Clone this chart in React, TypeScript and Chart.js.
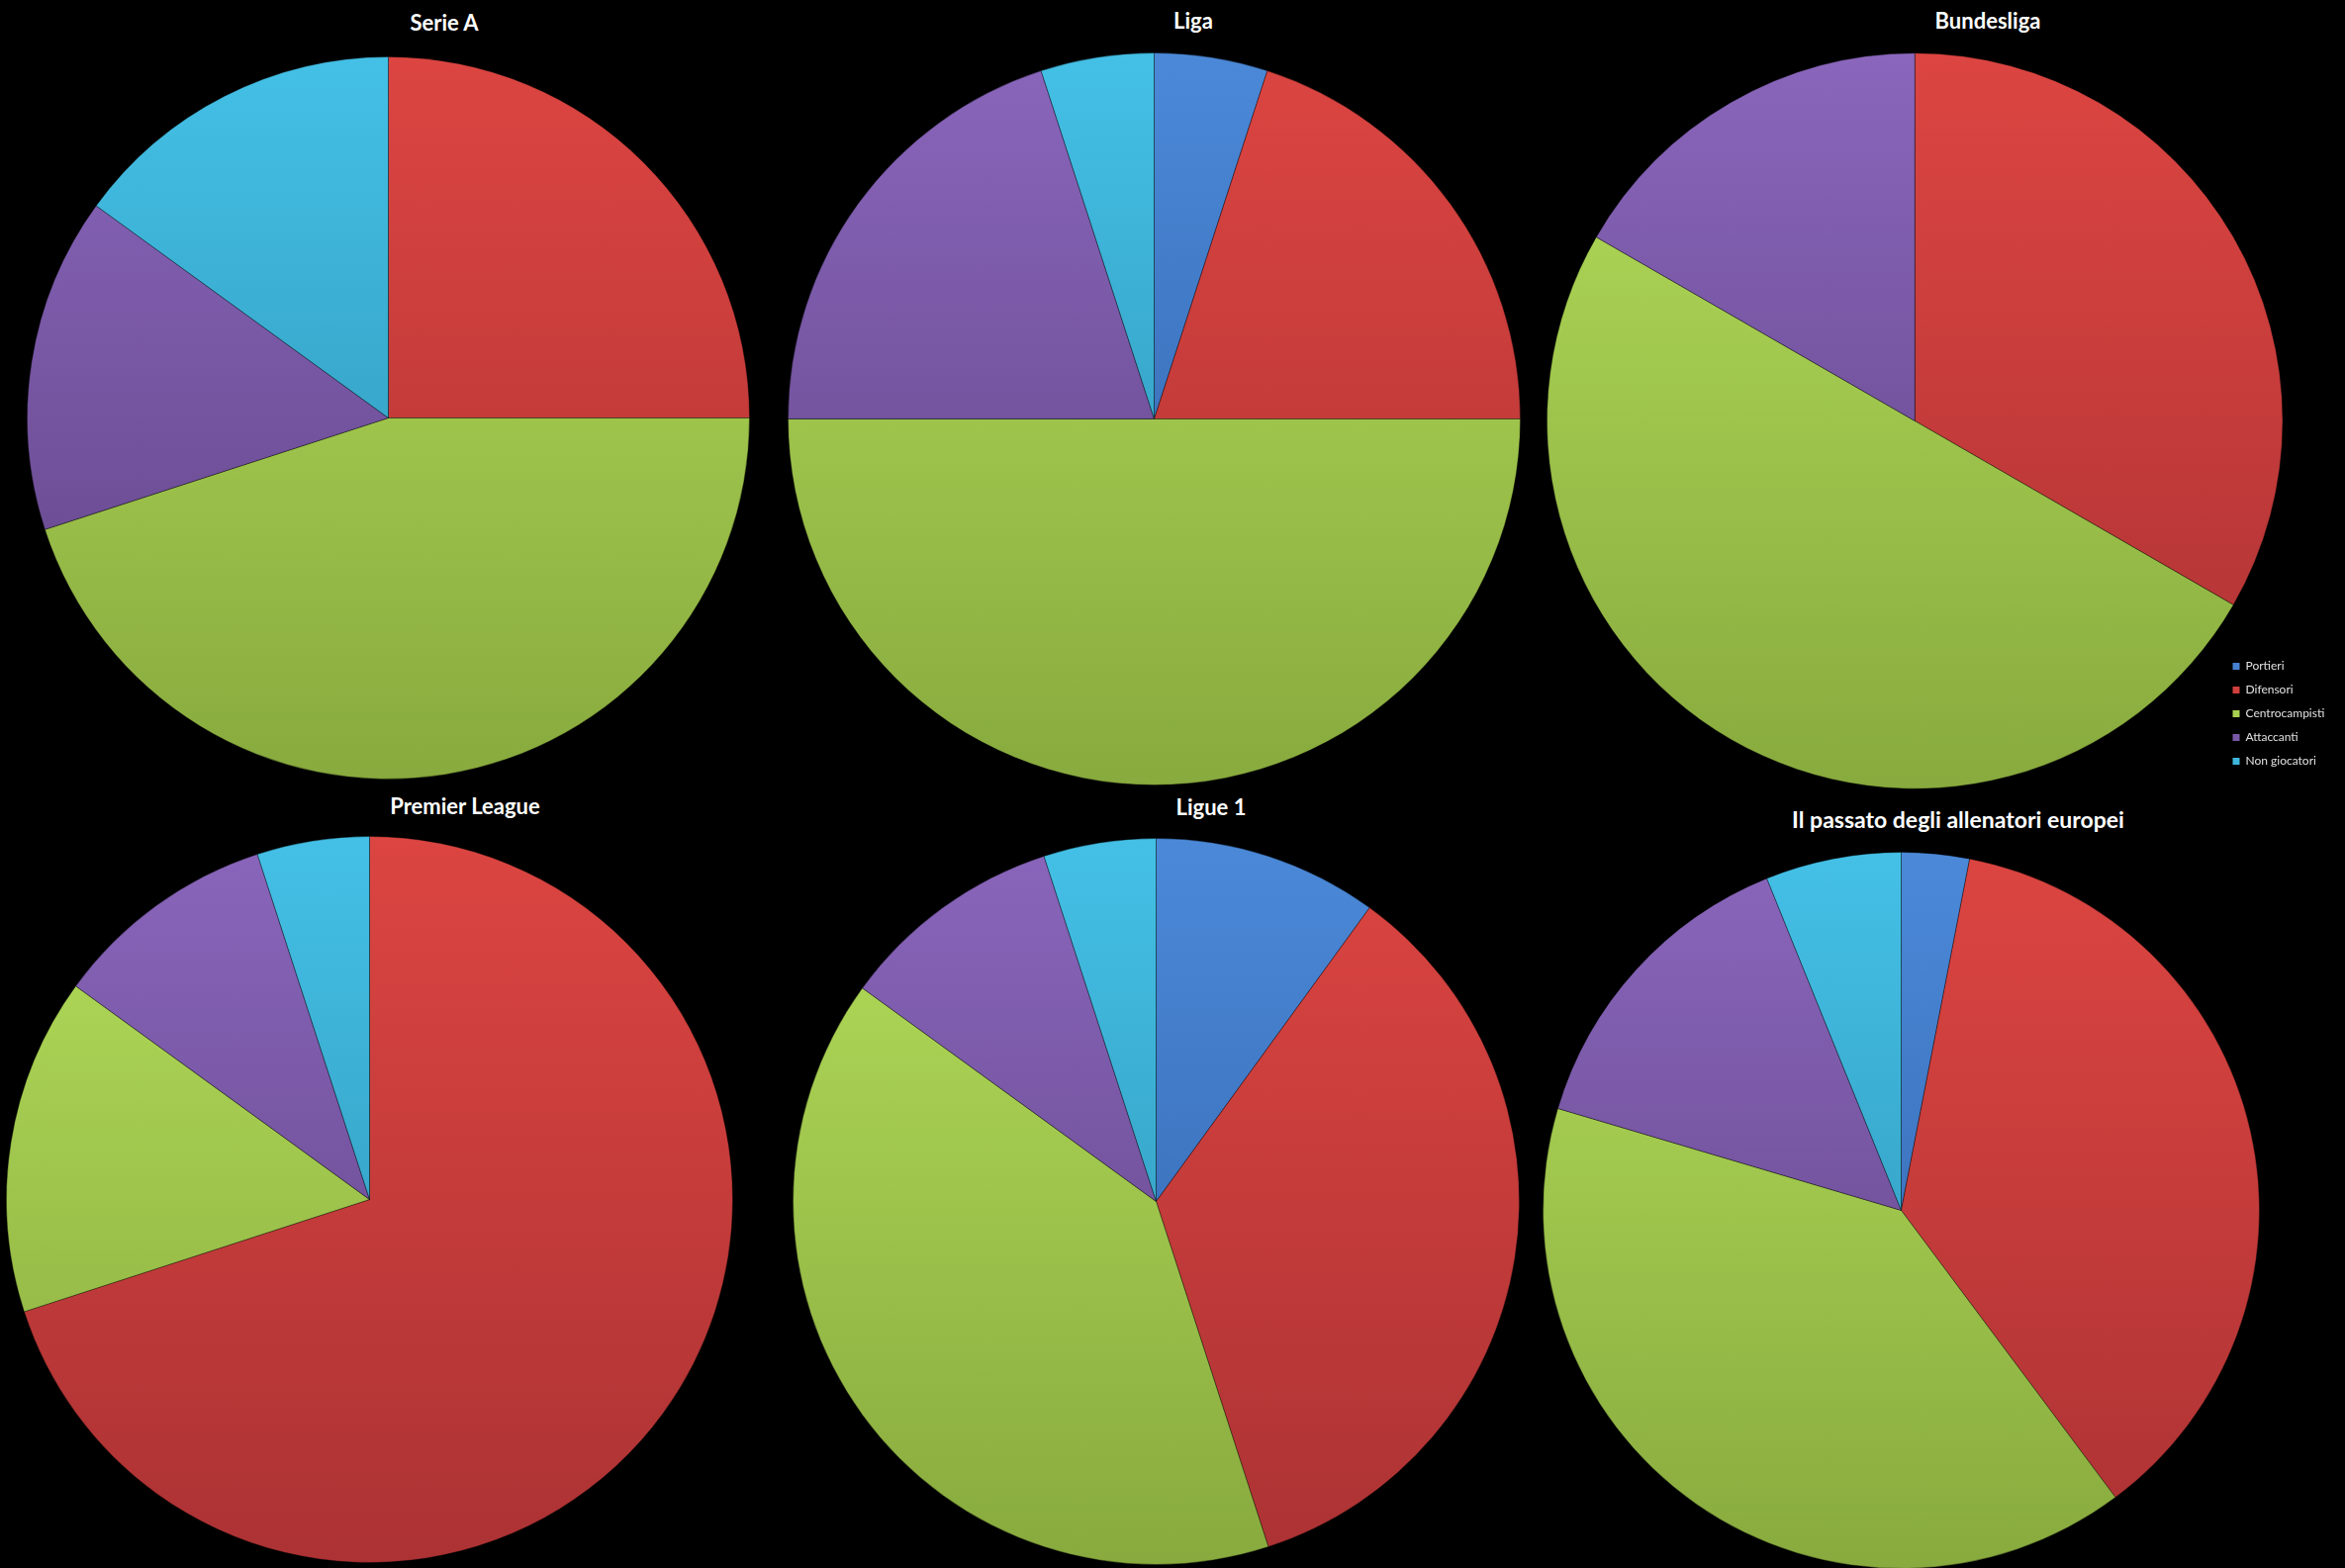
import React, { useEffect, useRef } from 'react';
import { Chart, registerables } from 'chart.js';

Chart.register(...registerables);

// ---- data ----
const categories = ['Portieri', 'Difensori', 'Centrocampisti', 'Attaccanti', 'Non giocatori'];
const serieA = [0, 5, 9, 3, 3];
const liga = [1, 4, 10, 4, 1];
const bundesliga = [0, 6, 9, 3, 0];
const premierLeague = [0, 14, 3, 2, 1];
const ligue1 = [2, 7, 8, 2, 1];
const passato = [3, 36, 39, 14, 6];
const chartTitles = ['Serie A', 'Liga', 'Bundesliga', 'Premier League', 'Ligue 1', 'Il passato degli allenatori europei'];

// ---- styles ----
const colorTop = ['#4b89d8', '#dc4541', '#b4de5a', '#8a66bc', '#44c0e6'];
const colorBottom = ['#3060a8', '#ac3234', '#88aa3e', '#5e4282', '#2c8fb0'];
const legendColors = ['#4680d0', '#cf3f3c', '#a8d050', '#7a58a8', '#3eb6dc'];

type Spec = {
  values: number[];
  title: string;
  cx: number; cy: number; r: number;
  tx: number; ty: number; fs: number;
  legend?: boolean;
};

const specs: Spec[] = [
  { values: serieA, title: chartTitles[0], cx: 392, cy: 422, r: 365, tx: 449, ty: 23, fs: 22 },
  { values: liga, title: chartTitles[1], cx: 1166, cy: 423, r: 370, tx: 1206, ty: 21, fs: 22 },
  { values: bundesliga, title: chartTitles[2], cx: 1935, cy: 425, r: 372, tx: 2009, ty: 21, fs: 22, legend: true },
  { values: premierLeague, title: chartTitles[3], cx: 373, cy: 1212, r: 367, tx: 470, ty: 815, fs: 22 },
  { values: ligue1, title: chartTitles[4], cx: 1168, cy: 1214, r: 367, tx: 1224, ty: 816, fs: 22 },
  { values: passato, title: chartTitles[5], cx: 1921, cy: 1223, r: 362, tx: 1979, ty: 828, fs: 23 },
];

const LEGEND_X = 2244; // page coords of legend box left
const LEGEND_Y = 655;

const legendPlacer = {
  id: 'legendPlacer',
  afterLayout(chart: any, _args: any, opts: any) {
    const lg = chart.legend;
    if (!lg || !opts || opts.x == null) return;
    const w = lg.width;
    lg.left = opts.x;
    lg.top = opts.y;
    lg.right = opts.x + w;
    lg.bottom = opts.y + 1000;
  },
};

function PieChart({ spec }: { spec: Spec }) {
  const ref = useRef<HTMLCanvasElement | null>(null);
  const S = 2 * spec.r + 1;
  const left = spec.cx - S / 2;
  const top = spec.cy - S / 2;
  const extra = spec.legend ? 2370 - (left + S) : 0;

  useEffect(() => {
    if (!ref.current) return;
    const chart = new Chart(ref.current, {
      type: 'pie',
      data: {
        labels: categories,
        datasets: [
          {
            data: spec.values,
            backgroundColor: (ctx: any) => {
              const c = ctx.chart;
              const area = c.chartArea;
              const i = ctx.dataIndex;
              if (!area) return colorTop[i];
              const g = c.ctx.createLinearGradient(0, area.top, 0, area.bottom);
              g.addColorStop(0, colorTop[i]);
              g.addColorStop(1, colorBottom[i]);
              return g;
            },
            borderColor: 'rgba(0,0,0,0.35)',
            borderWidth: 1,
          },
        ],
      },
      options: {
        responsive: false,
        animation: false,
        layout: { padding: { left: 0, top: 0, bottom: 0, right: extra } },
        plugins: {
          title: { display: false },
          tooltip: { enabled: false },
          legend: {
            display: !!spec.legend,
            position: 'chartArea',
            align: 'start',
            labels: {
              boxWidth: 7,
              boxHeight: 7,
              padding: 12,
              color: '#e0e0e0',
              font: { family: 'Lato, "Open Sans", sans-serif', size: 12 },
              generateLabels: () =>
                categories.map((c, i) => ({
                  text: c,
                  fillStyle: legendColors[i],
                  strokeStyle: legendColors[i],
                  lineWidth: 0,
                  hidden: false,
                  index: i,
                  fontColor: '#e0e0e0',
                })),
            },
          },
          // @ts-ignore
          legendPlacer: spec.legend ? { x: LEGEND_X - left, y: LEGEND_Y - top } : {},
        },
      } as any,
      plugins: [legendPlacer as any],
    });
    return () => chart.destroy();
  }, []);

  return (
    <>
      <canvas
        ref={ref}
        width={S + extra}
        height={S}
        style={{ position: 'absolute', left, top, width: S + extra, height: S }}
      />
      <div
        style={{
          position: 'absolute',
          left: spec.tx,
          top: spec.ty,
          transform: 'translate(-50%, -50%)',
          color: '#ffffff',
          fontFamily: 'Lato, "Open Sans", sans-serif',
          fontWeight: 700,
          fontSize: spec.fs,
          whiteSpace: 'nowrap',
          lineHeight: 1,
        }}
      >
        {spec.title}
      </div>
    </>
  );
}

export default function App() {
  useEffect(() => {
    document.documentElement.style.background = '#000';
    document.body.style.background = '#000';
    document.body.style.margin = '0';
    document.body.style.overflow = 'hidden';
  }, []);
  return (
    <div style={{ position: 'absolute', left: 0, top: 0, width: 2370, height: 1585, background: '#000', overflow: 'hidden' }}>
      {specs.map((s, i) => (
        <PieChart key={i} spec={s} />
      ))}
    </div>
  );
}
